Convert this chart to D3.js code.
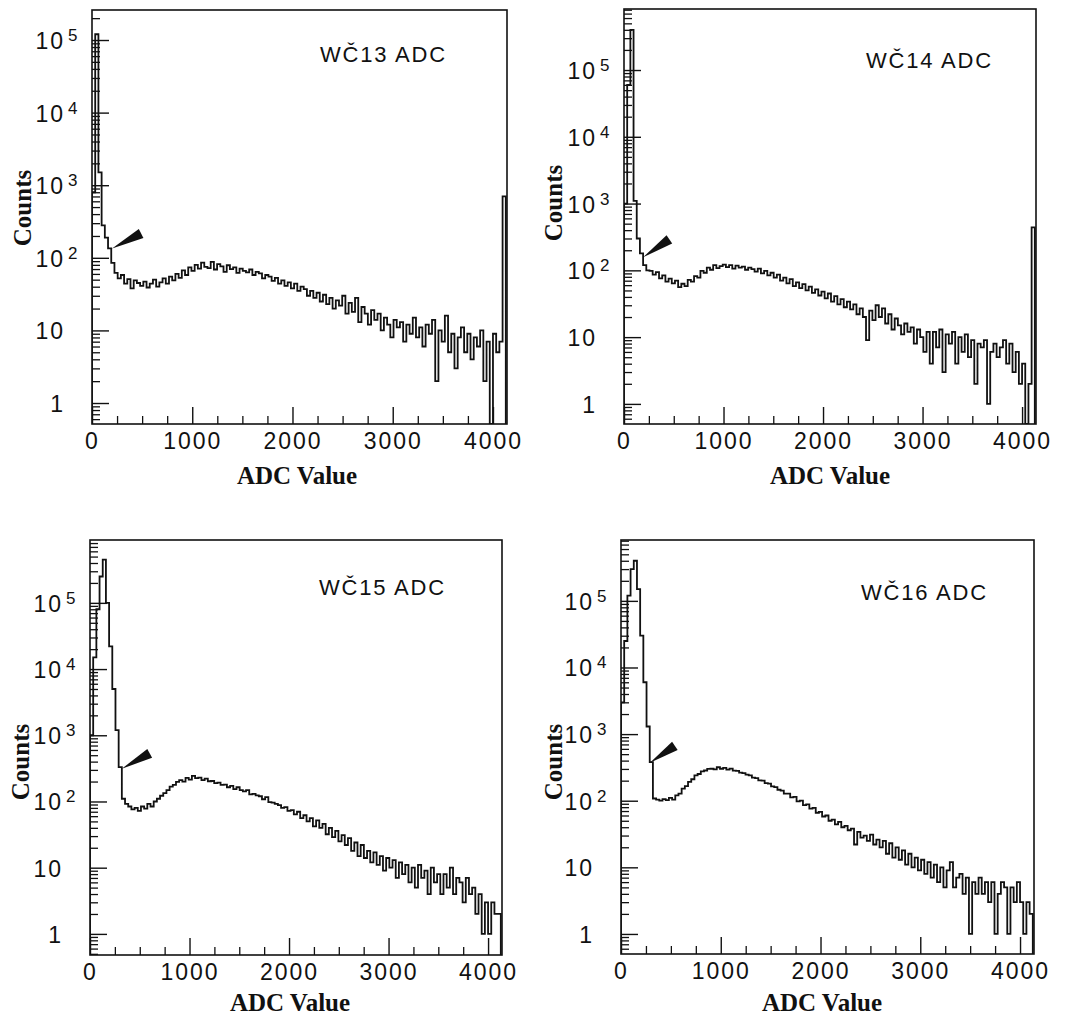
<!DOCTYPE html>
<html>
<head>
<meta charset="UTF-8">
<title>WČ13-16 ADC spectra</title>
<script src="https://cdn.jsdelivr.net/npm/d3@7"></script>
<style>
  body { margin: 0; background: #fff; }
  svg { display: block; }
</style>
</head>
<body>
<div id="chart"></div>
<script>
// histograms: 32-channel bins starting at ADC 0, last bin is the overflow
const binWidth = 32;
const xMax = 4140;
const xTicks = [0, 1000, 2000, 3000, 4000];
const xMinorTicks = [250, 500, 750, 1250, 1500, 1750, 2250, 2500, 2750, 3250, 3500, 3750];
const yMajorTicks = [1, 10, 100, 1000, 10000, 100000];
const yExponents = ["", "", "2", "3", "4", "5"];
const yMantissas = ["1", "10", "10", "10", "10", "10"];

const titles = ["WČ13 ADC", "WČ14 ADC", "WČ15 ADC", "WČ16 ADC"];
const yDomains = [[0.514, 2.59e5], [0.5, 8.2e5], [0.48, 8.9e5], [0.5, 8.2e5]];

const counts13 = [
  800, 120000, 1500, 280, 190, 135, 85, 62,
  52, 58, 44, 51, 38, 49, 45, 41,
  47, 39, 44, 50, 40, 46, 52, 44,
  55, 49, 60, 53, 67, 58, 74, 66,
  80, 71, 86, 75, 72, 88, 69, 82,
  76, 64, 79, 70, 74, 62, 71, 66,
  63, 69, 58, 64, 61, 52, 58, 55,
  48, 53, 44, 49, 41, 46, 38, 44,
  35, 40, 37, 30, 35, 28, 33, 25,
  31, 23, 28, 20, 26, 22, 30, 17,
  24, 18, 28, 13, 21, 17, 12, 19,
  14, 17, 10, 15, 12, 8, 14, 11,
  13, 7, 12, 9, 15, 8, 11, 6,
  12, 9, 14, 2, 10, 7, 16, 5,
  9, 3, 8, 11, 5, 9, 4, 8,
  6, 10, 2, 7, 0, 9, 5, 7,
  700
];

const counts14 = [
  1000, 60000, 400000, 1100, 300, 180, 120, 100,
  98, 86, 94, 76, 84, 68, 75, 64,
  70, 56, 63, 58, 72, 68, 82, 78,
  98, 92, 110, 102, 120, 108, 116, 122,
  112, 120, 106, 118, 110, 114, 102, 110,
  104, 96, 106, 90, 98, 84, 92, 78,
  86, 70, 78, 64, 74, 58, 66, 54,
  62, 50, 57, 46, 52, 42, 48, 38,
  45, 34, 41, 31, 37, 28, 34, 26,
  31, 22, 27, 20, 9, 25, 18, 30,
  20, 27, 16, 22, 13, 19, 15, 11,
  16, 12, 14, 8, 13, 10, 6, 12,
  4, 12, 7, 13, 3, 11, 8, 12,
  4, 10, 6, 11, 5, 9, 2, 8,
  7, 9, 1, 6, 8, 5, 7, 9,
  4, 8, 3, 6, 2, 4, 0, 2,
  440
];

const counts15 = [
  1000, 15000, 80000, 250000, 450000, 100000, 22000, 5000,
  1200, 330, 110, 92, 84, 76, 80, 72,
  84, 78, 92, 84, 100, 110, 122, 134,
  148, 168, 178, 198, 210, 200, 228, 214,
  244, 226, 230, 210, 222, 202, 204, 190,
  192, 178, 180, 164, 172, 154, 164, 148,
  142, 148, 128, 130, 124, 120, 108, 116,
  98, 96, 92, 88, 80, 82, 72, 74,
  64, 70, 56, 62, 50, 56, 42, 52,
  40, 46, 32, 40, 29, 36, 25, 31,
  22, 28, 18, 24, 15, 22, 14, 18,
  12, 17, 11, 15, 9, 14, 10, 13,
  7, 12, 8, 11, 6, 10, 5, 11,
  7, 9, 4, 10, 6, 8, 4, 8,
  5, 10, 4, 7, 6, 3, 7, 4,
  5, 2, 4, 1, 3, 1, 3, 2,
  2
];

const counts16 = [
  3000, 25000, 120000, 300000, 400000, 150000, 30000, 6000,
  1300, 380, 108, 104, 100, 106, 102, 110,
  104, 120, 128, 152, 166, 192, 210, 240,
  252, 276, 284, 300, 302, 296, 318, 302,
  312, 292, 304, 282, 280, 264, 260, 246,
  240, 222, 218, 202, 200, 184, 180, 164,
  160, 146, 142, 128, 128, 112, 114, 98,
  100, 86, 88, 76, 78, 66, 68, 58,
  60, 50, 52, 44, 48, 40, 42, 36,
  38, 22, 34, 28, 30, 25, 31, 22,
  26, 20, 25, 16, 23, 14, 20, 13,
  18, 11, 16, 10, 14, 9, 13, 8,
  12, 7, 11, 6, 10, 5, 9, 12,
  5, 7, 8, 4, 7, 1, 6, 4,
  7, 4, 6, 3, 6, 1, 4, 6,
  5, 1, 5, 3, 6, 3, 1, 3,
  2
];

// arrow wedges: tip and tail in (ADC, counts)
const arrowTips = [[200, 134], [192, 157], [320, 313], [290, 373]];
const arrowTails = [[490, 216], [456, 290], [600, 533], [540, 665]];

const allCounts = [counts13, counts14, counts15, counts16];

// page layout (pixels)
const panels = [
  { left: 92, right: 507, top: 10, bottom: 424, title: [320, 62], counts: [22, 208], xlab: [297, 484] },
  { left: 624, right: 1036, top: 9, bottom: 424, title: [866, 68], counts: [553, 203], xlab: [830, 484] },
  { left: 90, right: 502, top: 540, bottom: 955, title: [319, 595], counts: [20, 762], xlab: [290, 1011] },
  { left: 621, right: 1034, top: 540, bottom: 954, title: [861, 600], counts: [553, 762], xlab: [822, 1011] }
];

const sansFont = "'Liberation Sans', Arial, sans-serif";
const serifFont = "'Liberation Serif', 'Times New Roman', serif";
const ink = "#111";

const svg = d3.select("#chart")
  .append("svg")
  .attr("width", 1066)
  .attr("height", 1019)
  .style("background", "#fff");

panels.forEach((p, k) => {
  const x = d3.scaleLinear().domain([0, xMax]).range([p.left, p.right]);
  const y = d3.scaleLog().domain(yDomains[k]).range([p.bottom, p.top]).clamp(true);
  const g = svg.append("g");

  const clipId = "clip" + k;
  g.append("clipPath").attr("id", clipId)
    .append("rect")
    .attr("x", p.left).attr("y", p.top)
    .attr("width", p.right - p.left).attr("height", p.bottom - p.top);

  // minor ticks along the y axis: 2..9 of every decade
  const yMinor = [];
  for (let e = -1; e <= 6; e++) {
    for (let m = 2; m <= 9; m++) {
      const v = m * Math.pow(10, e);
      if (v > yDomains[k][0] && v < yDomains[k][1]) yMinor.push(v);
    }
  }

  g.append("g")
    .attr("transform", `translate(${p.left},0)`)
    .call(d3.axisLeft(y).tickValues(yMinor).tickSize(-8).tickFormat(""))
    .call(a => a.select(".domain").remove())
    .call(a => a.selectAll("line").attr("stroke", ink).attr("stroke-width", 1.3));

  g.append("g")
    .attr("transform", `translate(${p.left},0)`)
    .call(d3.axisLeft(y).tickValues(yMajorTicks).tickSize(-17).tickFormat(""))
    .call(a => a.select(".domain").remove())
    .call(a => a.selectAll("line").attr("stroke", ink).attr("stroke-width", 1.4));

  // y tick labels: mantissa right-aligned, exponent as superscript
  const labels = g.append("g")
    .attr("font-family", sansFont)
    .attr("fill", ink);
  yMajorTicks.forEach((v, i) => {
    const ty = y(v);
    labels.append("text")
      .attr("x", p.left - 27)
      .attr("y", ty + 9)
      .attr("text-anchor", "end")
      .attr("font-size", 23)
      .attr("letter-spacing", 2)
      .text(yMantissas[i]);
    if (yExponents[i]) {
      labels.append("text")
        .attr("x", p.left - 24)
        .attr("y", ty + 1)
        .attr("font-size", 17)
        .text(yExponents[i]);
    }
  });

  g.append("g")
    .attr("transform", `translate(0,${p.bottom})`)
    .call(d3.axisBottom(x).tickValues(xMinorTicks).tickSize(-8).tickFormat(""))
    .call(a => a.select(".domain").remove())
    .call(a => a.selectAll("line").attr("stroke", ink).attr("stroke-width", 1.3));

  g.append("g")
    .attr("transform", `translate(0,${p.bottom})`)
    .call(d3.axisBottom(x).tickValues(xTicks).tickSize(-17).tickPadding(9).tickFormat(d3.format("d")))
    .call(a => a.select(".domain").remove())
    .call(a => a.selectAll("line").attr("stroke", ink).attr("stroke-width", 1.4))
    .call(a => a.selectAll("text")
      .attr("fill", ink)
      .attr("font-family", sansFont)
      .attr("font-size", 23)
      .attr("letter-spacing", 2));

  // histogram outline
  const counts = allCounts[k];
  const pts = [[0, 0]];
  counts.forEach((c, i) => {
    pts.push([i * binWidth, c]);
    pts.push([(i + 1) * binWidth, c]);
  });
  pts.push([counts.length * binWidth, 0]);

  const line = d3.line()
    .x(d => x(d[0]))
    .y(d => y(Math.max(d[1], 1e-3)));

  g.append("path")
    .datum(pts)
    .attr("clip-path", `url(#${clipId})`)
    .attr("fill", "none")
    .attr("stroke", ink)
    .attr("stroke-width", 1.8)
    .attr("d", line);

  // black wedge pointing at the curve
  const tip = [x(arrowTips[k][0]), y(arrowTips[k][1])];
  const tail = [x(arrowTails[k][0]), y(arrowTails[k][1])];
  const dx = tail[0] - tip[0], dy = tail[1] - tip[1];
  const len = Math.hypot(dx, dy);
  const nx = -dy / len * 5, ny = dx / len * 5;
  g.append("polygon")
    .attr("points", [tip, [tail[0] + nx, tail[1] + ny], [tail[0] - nx, tail[1] - ny]].map(q => q.join(",")).join(" "))
    .attr("fill", ink);

  // frame
  g.append("rect")
    .attr("x", p.left).attr("y", p.top)
    .attr("width", p.right - p.left).attr("height", p.bottom - p.top)
    .attr("fill", "none")
    .attr("stroke", ink)
    .attr("stroke-width", 1.6);

  g.append("text")
    .attr("x", p.title[0]).attr("y", p.title[1])
    .attr("font-family", sansFont)
    .attr("font-size", 22)
    .attr("letter-spacing", 1.8)
    .attr("fill", ink)
    .text(titles[k]);

  g.append("text")
    .attr("transform", `translate(${p.counts[0]},${p.counts[1]}) rotate(-90)`)
    .attr("text-anchor", "middle")
    .attr("dy", "0.35em")
    .attr("font-family", serifFont)
    .attr("font-weight", "bold")
    .attr("font-size", 25)
    .attr("fill", ink)
    .text("Counts");

  g.append("text")
    .attr("x", p.xlab[0]).attr("y", p.xlab[1])
    .attr("text-anchor", "middle")
    .attr("font-family", serifFont)
    .attr("font-weight", "bold")
    .attr("font-size", 25)
    .attr("fill", ink)
    .text("ADC Value");
});
</script>
</body>
</html>
